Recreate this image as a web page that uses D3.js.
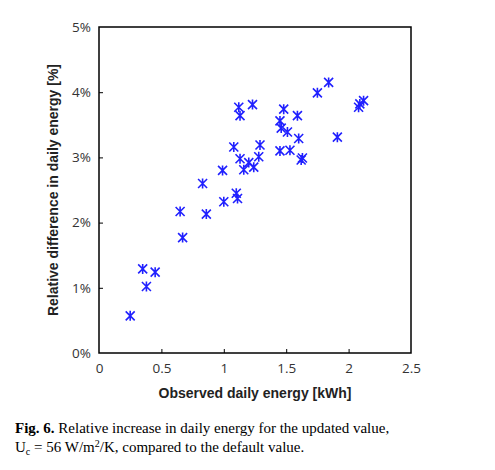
<!DOCTYPE html><html><head><script src="https://d3js.org/d3.v7.min.js"></script>
<style>body{margin:0;background:#fff}</style></head><body><script>
const xs=[0.25,0.35,0.38,0.45,0.65,0.67,0.83,0.86,0.99,1.00,1.08,1.10,1.11,1.12,1.13,1.13,1.16,1.20,1.23,1.24,1.28,1.29,1.45,1.45,1.46,1.48,1.51,1.53,1.59,1.60,1.62,1.63,1.75,1.84,1.91,2.08,2.09,2.12];
const ys=[0.57,1.29,1.02,1.24,2.17,1.77,2.60,2.13,2.80,2.32,3.16,2.45,2.37,3.77,3.64,2.98,2.81,2.92,3.81,2.85,3.01,3.19,3.10,3.56,3.45,3.74,3.39,3.11,3.64,3.29,2.96,2.99,3.99,4.15,3.31,3.77,3.82,3.87];
const xTicks=[0,0.5,1,1.5,2,2.5], yTicks=[0,1,2,3,4,5];
const svg=d3.select("body").append("svg").attr("width",495).attr("height",470);
const x=d3.scaleLinear([0,2.5],[99,411]), y=d3.scaleLinear([0,5],[353,27]);
svg.append("rect").attr("x",99).attr("y",27).attr("width",312).attr("height",326).attr("fill","none").attr("stroke","#000").attr("stroke-width",1.5);
const xa=svg.append("g").attr("transform","translate(0,353)").call(d3.axisBottom(x).tickValues(xTicks).tickSize(-4).tickPadding(10).tickFormat(d3.format("")));
const ya=svg.append("g").attr("transform","translate(99,0)").call(d3.axisLeft(y).tickValues(yTicks).tickSize(-4).tickPadding(8).tickFormat(d=>d+"%"));
[xa,ya].forEach(a=>{a.select(".domain").remove();a.selectAll("line").attr("stroke","#000");a.selectAll("text").attr("font-family","'Open Sans', 'Liberation Sans', sans-serif").attr("font-size",13.5).attr("fill","#333");});
xa.selectAll(".tick").filter(d=>d==0||d==2.5).select("line").remove();
ya.selectAll(".tick").filter(d=>d==0||d==5).select("line").remove();
const g=svg.append("g").attr("stroke","#2020ff").attr("stroke-width",1.6);
xs.forEach((v,i)=>{const cx=x(v),cy=y(ys[i]),r=4.5;
 g.append("path").attr("d",`M${cx-r},${cy-r}L${cx+r},${cy+r}M${cx-r},${cy+r}L${cx+r},${cy-r}M${cx},${cy-r-0.5}L${cx},${cy+r+0.5}`);});
svg.append("text").attr("x",255).attr("y",398).attr("text-anchor","middle").attr("font-family","'Liberation Sans', sans-serif").attr("font-weight","bold").attr("font-size",14).attr("fill","#222").text("Observed daily energy [kWh]");
svg.append("text").attr("transform","translate(58,190) rotate(-90)").attr("text-anchor","middle").attr("font-family","'Liberation Sans', sans-serif").attr("font-weight","bold").attr("font-size",14).attr("fill","#222").text("Relative difference in daily energy [%]");
const c1=svg.append("text").attr("x",15).attr("y",433).attr("font-family","'Liberation Serif', serif").attr("font-size",15);
c1.append("tspan").attr("font-weight","bold").text("Fig. 6.");
c1.append("tspan").text(" Relative increase in daily energy for the updated value,");
const c2=svg.append("text").attr("x",15).attr("y",452).attr("font-family","'Liberation Serif', serif").attr("font-size",15);
c2.append("tspan").text("U");c2.append("tspan").attr("font-size",10).attr("dy",3).text("c");
c2.append("tspan").attr("dy",-3).text(" = 56 W/m");c2.append("tspan").attr("font-size",10).attr("dy",-5).text("2");
c2.append("tspan").attr("dy",5).text("/K, compared to the default value.");
</script></body></html>
